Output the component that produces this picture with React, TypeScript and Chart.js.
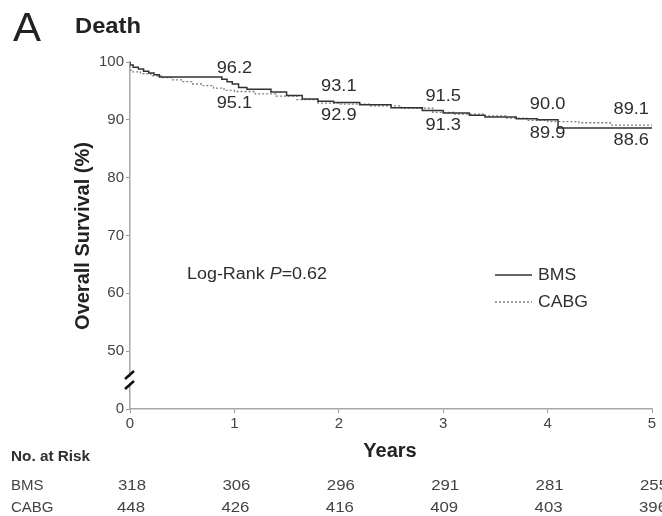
import React, { useEffect, useRef } from "react";
import { Chart, registerables } from "chart.js";

Chart.register(...registerables);

// ---- Data ----
const bmsTimes = [0, 0.03, 0.08, 0.13, 0.18, 0.23, 0.28, 0.88, 0.93, 0.98, 1.04, 1.12, 1.35, 1.5, 1.65, 1.8, 1.95, 2.2, 2.5, 2.8, 3.0, 3.25, 3.4, 3.7, 3.9, 4.1, 4.3, 5.0];
const bmsSurv = [100, 99.5, 99.1, 98.8, 98.4, 98.1, 97.8, 97.4, 97.0, 96.6, 96.2, 95.6, 95.3, 94.8, 94.2, 93.6, 93.2, 93.0, 92.6, 92.1, 91.6, 91.2, 90.8, 90.5, 90.2, 90.0, 88.6, 88.6];
const cabgTimes = [0, 0.01, 0.1, 0.2, 0.3, 0.4, 0.5, 0.6, 0.7, 0.8, 0.9, 1.0, 1.2, 1.4, 1.6, 1.8, 2.0, 2.3, 2.6, 2.9, 3.1, 3.4, 3.6, 3.8, 4.0, 4.3, 4.6, 4.9, 5.0];
const cabgSurv = [100, 98.6, 98.3, 98.0, 97.6, 97.3, 96.9, 96.6, 96.2, 95.9, 95.5, 95.1, 94.9, 94.5, 94.1, 93.5, 92.9, 92.7, 92.4, 92.0, 91.3, 91.0, 90.7, 90.3, 89.9, 89.7, 89.5, 89.1, 89.1];

const labelYears = [1, 2, 3, 4, 5];
const bmsAtYear = [96.2, 93.1, 91.5, 90.0, 88.6];
const cabgAtYear = [95.1, 92.9, 91.3, 89.9, 89.1];

const riskYears = [0, 1, 2, 3, 4, 5];
const bmsAtRisk = [318, 306, 296, 291, 281, 255];
const cabgAtRisk = [448, 426, 416, 409, 403, 396];

const yTicks = [40, 50, 60, 70, 80, 90, 100];
const yTickLabels = ["0", "50", "60", "70", "80", "90", "100"];
const xTicks = [0, 1, 2, 3, 4, 5];

const FONT = "'Liberation Sans', Arial, Helvetica, sans-serif";
const TEXT = "#2e2e2e";

// draw text with a slight horizontal stretch (the reference glyphs are widened)
function textS(
  ctx: CanvasRenderingContext2D,
  txt: string,
  x: number,
  y: number,
  align: CanvasTextAlign,
  sx: number
) {
  ctx.save();
  ctx.translate(x, y);
  ctx.scale(sx, 1);
  ctx.textAlign = align;
  ctx.fillText(txt, 0, 0);
  ctx.restore();
}

const annotPlugin = {
  id: "annot",
  afterDraw(chart: any) {
    const ctx = chart.ctx as CanvasRenderingContext2D;
    const xs = chart.scales.x;
    const ys = chart.scales.y;
    const area = chart.chartArea;
    ctx.save();
    ctx.textBaseline = "middle";

    // Panel letter and title
    ctx.fillStyle = "#222";
    ctx.font = `40px ${FONT}`;
    textS(ctx, "A", 13, 30, "left", 1.05);
    ctx.font = `bold 22px ${FONT}`;
    textS(ctx, "Death", 75, 27, "left", 1.08);

    // Y title
    ctx.save();
    ctx.translate(83, 236);
    ctx.rotate(-Math.PI / 2);
    ctx.textAlign = "center";
    ctx.font = `bold 20px ${FONT}`;
    ctx.fillText("Overall Survival (%)", 0, 0);
    ctx.restore();

    // X title
    ctx.font = `bold 20px ${FONT}`;
    textS(ctx, "Years", 390, 451, "center", 1.0);

    // Curve labels
    ctx.font = `16px ${FONT}`;
    ctx.fillStyle = TEXT;
    const sxl = 1.14;
    labelYears.forEach((yr, i) => {
      const b = bmsAtYear[i];
      const c = cabgAtYear[i];
      const hi = Math.max(b, c);
      const lo = Math.min(b, c);
      let px = xs.getPixelForValue(yr);
      const hiTxt = hi.toFixed(1);
      const loTxt = lo.toFixed(1);
      const w = ctx.measureText(hiTxt).width * sxl;
      let align: CanvasTextAlign = "center";
      if (px + w / 2 > area.right) {
        align = "right";
        px = area.right - 3;
      }
      textS(ctx, hiTxt, px, ys.getPixelForValue(hi) - 15, align, sxl);
      textS(ctx, loTxt, px, ys.getPixelForValue(lo) + 13, align, sxl);
    });

    // Log-rank
    const sxr = 1.12;
    let lx = 187;
    const ly = 275;
    ctx.font = `16px ${FONT}`;
    textS(ctx, "Log-Rank ", lx, ly, "left", sxr);
    lx += ctx.measureText("Log-Rank ").width * sxr;
    ctx.font = `italic 16px ${FONT}`;
    textS(ctx, "P", lx, ly, "left", sxr);
    lx += ctx.measureText("P").width * sxr;
    ctx.font = `16px ${FONT}`;
    textS(ctx, "=0.62", lx, ly, "left", sxr);

    // Legend
    ctx.lineWidth = 1.4;
    ctx.strokeStyle = "#333";
    ctx.setLineDash([]);
    ctx.beginPath();
    ctx.moveTo(495, 275);
    ctx.lineTo(532, 275);
    ctx.stroke();
    ctx.strokeStyle = "#777";
    ctx.setLineDash([2, 2]);
    ctx.beginPath();
    ctx.moveTo(495, 302);
    ctx.lineTo(532, 302);
    ctx.stroke();
    ctx.setLineDash([]);
    ctx.font = `16px ${FONT}`;
    ctx.fillStyle = TEXT;
    textS(ctx, "BMS", 538, 276, "left", 1.1);
    textS(ctx, "CABG", 538, 303, "left", 1.1);

    // Axis break marks
    ctx.fillStyle = "#fff";
    ctx.fillRect(127, 377, 6, 6);
    ctx.strokeStyle = "#111";
    ctx.lineWidth = 2.6;
    ctx.beginPath();
    ctx.moveTo(125, 379);
    ctx.lineTo(134, 371);
    ctx.moveTo(125, 389);
    ctx.lineTo(134, 381);
    ctx.stroke();

    // At-risk table
    ctx.fillStyle = TEXT;
    ctx.font = `bold 15px ${FONT}`;
    textS(ctx, "No. at Risk", 11, 457, "left", 1.02);
    ctx.font = `15px ${FONT}`;
    ctx.fillStyle = "#444";
    textS(ctx, "BMS", 11, 486, "left", 1.0);
    textS(ctx, "CABG", 11, 508, "left", 1.0);
    riskYears.forEach((yr, i) => {
      const px = xs.getPixelForValue(yr);
      textS(ctx, String(bmsAtRisk[i]), px + 2, 486, "center", 1.12);
      textS(ctx, String(cabgAtRisk[i]), px + 1, 508, "center", 1.12);
    });

    ctx.restore();
  },
};

export default function App() {
  const ref = useRef<HTMLCanvasElement | null>(null);
  useEffect(() => {
    if (!ref.current) return;
    const chart = new Chart(ref.current, {
      type: "line",
      data: {
        datasets: [
          {
            label: "BMS",
            data: bmsTimes.map((t, i) => ({ x: t, y: bmsSurv[i] })),
            borderColor: "#333",
            borderWidth: 1.5,
            stepped: "after",
            pointRadius: 0,
            fill: false,
          },
          {
            label: "CABG",
            data: cabgTimes.map((t, i) => ({ x: t, y: cabgSurv[i] })),
            borderColor: "#808080",
            borderWidth: 1.3,
            borderDash: [2, 2],
            stepped: "after",
            pointRadius: 0,
            fill: false,
          },
        ],
      },
      options: {
        responsive: false,
        animation: false,
        layout: { padding: { left: 0, right: 10, top: 62, bottom: 0 } },
        plugins: {
          legend: { display: false },
          title: { display: false },
          tooltip: { enabled: false },
        },
        elements: { line: { tension: 0 } },
        scales: {
          x: {
            type: "linear",
            min: 0,
            max: 5,
            afterFit: (s: any) => {
              s.height = 107;
            },
            afterBuildTicks: (s: any) => {
              s.ticks = xTicks.map((v) => ({ value: v }));
            },
            ticks: {
              color: "#444",
              font: { family: FONT, size: 15 },
              padding: 2,
              maxRotation: 0,
            },
            grid: {
              drawOnChartArea: false,
              color: "#9a9a9a",
              tickLength: 4,
              lineWidth: 1,
            },
            border: { display: true, color: "#a8a8a8", width: 1.5 },
          },
          y: {
            type: "linear",
            min: 40,
            max: 100,
            afterFit: (s: any) => {
              s.width = 130;
            },
            afterBuildTicks: (s: any) => {
              s.ticks = yTicks.map((v) => ({ value: v }));
            },
            ticks: {
              color: "#444",
              font: { family: FONT, size: 15 },
              padding: 2,
              callback: (v: any) => {
                const idx = yTicks.indexOf(Number(v));
                return idx >= 0 ? yTickLabels[idx] : "";
              },
            },
            grid: {
              drawOnChartArea: false,
              color: "#9a9a9a",
              tickLength: 4,
              lineWidth: 1,
            },
            border: { display: true, color: "#a8a8a8", width: 1.5 },
          },
        },
      },
      plugins: [annotPlugin],
    } as any);
    return () => chart.destroy();
  }, []);
  return (
    <div style={{ position: "fixed", left: 0, top: 0, width: 662, height: 516, background: "#fff" }}>
      <canvas ref={ref} width={662} height={516} style={{ display: "block" }} />
    </div>
  );
}
